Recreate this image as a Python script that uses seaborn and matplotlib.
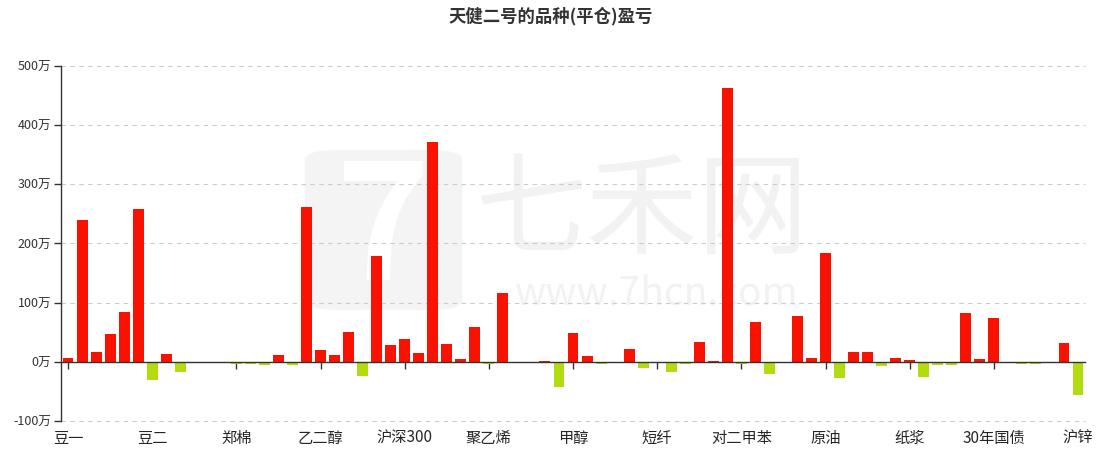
import pandas as pd
import matplotlib.pyplot as plt
import seaborn as sns
from matplotlib.patches import FancyBboxPatch

# 品种 (only every 6th name shows on the axis)
varieties = [
    "豆一", "豆粕", "豆油", "棕榈油", "玉米", "淀粉",
    "豆二", "鸡蛋", "粳米", "生猪", "苹果", "红枣",
    "郑棉", "郑糖", "菜油", "菜粕", "棉纱", "PTA",
    "乙二醇", "苯乙烯", "液化气", "沪金", "沪银", "上证50",
    "沪深300", "中证500", "中证1000", "塑料", "PVC", "聚丙烯",
    "聚乙烯", "焦炭", "焦煤", "铁矿石", "螺纹钢", "热卷",
    "甲醇", "纯碱", "玻璃", "尿素", "硅铁", "锰硅",
    "短纤", "瓶片", "烧碱", "花生", "菜籽", "沪锡",
    "对二甲苯", "沥青", "燃油", "低硫燃油", "橡胶", "20号胶",
    "原油", "丁二烯橡胶", "原木", "不锈钢", "沪铝", "氧化铝",
    "纸浆", "沪铜", "国际铜", "沪铅", "沪镍", "2年国债",
    "30年国债", "5年国债", "10年国债", "工业硅", "碳酸锂", "集运欧线",
    "沪锌",
]

# 盈亏, 万元
pnl = [
    7, 240, 17, 47, 84, 258,
    -31, 13, -17, -1, 0, -2,
    -3, -4, -5, 11, -5, 262,
    20, 12, 50, -24, 179, 29,
    39, 15, 372, 30, 4.5, 59,
    -4, 117, -1, -1, 2, -43,
    49, 9, -4, 0, 22, -11,
    -2, -18, -3, 33, 2, 462,
    -4.5, 68, -21, 0, 78, 7,
    184, -27, 16, 17, -7, 6,
    3, -25, -6, -6, 82, 4.5,
    74, 0, -4, -4, 0, 32,
    -56,
]

y_ticks = [-100, 0, 100, 200, 300, 400, 500]

df = pd.DataFrame({"品种": varieties, "盈亏": pnl})
df["sign"] = ["盈" if v >= 0 else "亏" for v in df["盈亏"]]

sns.set_theme(style="white")
plt.rcParams["font.family"] = ["Noto Sans CJK SC", "DejaVu Sans"]

fig = plt.figure(figsize=(11.01, 4.49), dpi=100)
ax = fig.add_axes([0.0554, 0.0624, 0.9301, 0.7906])

# faint watermark
ax.text(0.568, 0.585, "七禾网", transform=ax.transAxes, ha="center", va="center",
        fontsize=80, color="#f2f2f2", zorder=0)
ax.text(0.582, 0.36, "www.7hcn.com", transform=ax.transAxes, ha="center", va="center",
        fontsize=28, color="#f2f2f2", zorder=0)
logo = FancyBboxPatch((0.238, 0.313), 0.154, 0.45, boxstyle="round,pad=0,rounding_size=0.03",
                      transform=ax.transAxes, facecolor="#f4f4f4", edgecolor="none", zorder=0)
ax.add_patch(logo)
ax.text(0.315, 0.53, "7", transform=ax.transAxes, ha="center", va="center",
        fontsize=115, color="white", fontweight="bold", zorder=0)

sns.barplot(
    data=df, x="品种", y="盈亏", hue="sign",
    palette={"盈": "#fa1200", "亏": "#b2dc10"}, saturation=1,
    dodge=False, width=0.78, legend=False, linewidth=0, ax=ax, zorder=3,
)

ax.set_xlim(-0.5, len(varieties) - 0.5)
ax.set_ylim(-100, 500)
ax.set_yticks(y_ticks)
ax.set_yticklabels([f"{v}万" for v in y_ticks], fontsize=9, color="#333333")
ax.yaxis.grid(True, linestyle=(0, (4, 4)), color="#cccccc", linewidth=0.8)
for gl in ax.get_ygridlines():
    gl.set_clip_on(False)
ax.set_axisbelow(True)

shown = list(range(0, len(varieties), 6))
ax.set_xticks(shown)
ax.set_xticklabels([varieties[i] for i in shown], fontsize=9.5, color="#333333")
ax.set_xlabel("")
ax.set_ylabel("")

for side in ["top", "right"]:
    ax.spines[side].set_visible(False)
ax.spines["left"].set_color("#333333")
ax.spines["left"].set_linewidth(1)
ax.spines["bottom"].set_position(("data", 0))
ax.spines["bottom"].set_color("#333333")
ax.spines["bottom"].set_linewidth(1)
ax.spines["bottom"].set_zorder(4)
ax.tick_params(axis="y", which="both", left=True, length=5, width=1, color="#333333", pad=2)
ax.tick_params(axis="x", which="both", bottom=True, length=5, width=1, color="#333333", pad=44)

fig.suptitle("天健二号的品种(平仓)盈亏", x=0.5, y=0.985, fontsize=12.5,
             fontweight="bold", color="#333333")

fig.savefig("out.png", dpi=100)
